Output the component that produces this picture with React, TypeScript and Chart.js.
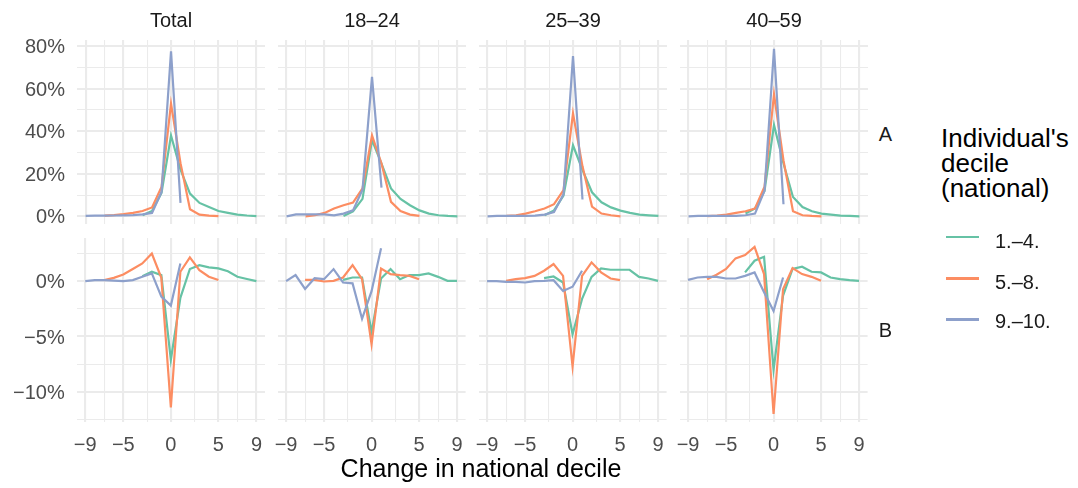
import React, { useEffect, useRef } from 'react';
import { Chart, registerables } from 'chart.js';

Chart.register(...registerables);

const N = null;

// Change in national decile (x categories)
const CHANGE = [-9, -8, -7, -6, -5, -4, -3, -2, -1, 0, 1, 2, 3, 4, 5, 6, 7, 8, 9];
const GROUPS = ['1.\u20134.', '5.\u20138.', '9.\u201310.'];
const AGE_FACETS = ['Total', '18\u201324', '25\u201339', '40\u201359'];
const ROW_FACETS = ['A', 'B'];

const X_GRID = [-9, -7, -5, -2.5, 0, 2.5, 5, 7, 9];
const X_MAJOR = [-9, -5, 0, 5, 9];
const Y_GRID_A = [0, 10, 20, 30, 40, 50, 60, 70, 80];
const Y_MAJOR_A = [0, 20, 40, 60, 80];
const Y_GRID_B = [-12.5, -10, -7.5, -5, -2.5, 0, 2.5];
const Y_MAJOR_B = [-10, -5, 0];

// Row A (percent)
const TOTAL_A_1_4 = [N, N, N, N, N, N, 0.5, 2.5, 11, 38, 22, 10.7, 6.3, 4.4, 2.5, 1.6, 0.8, 0.4, 0.1];
const TOTAL_A_5_8 = [N, N, 0.3, 0.6, 1.0, 1.6, 2.5, 4.2, 13.8, 53, 25, 3.3, 0.8, 0.3, 0.1, N, N, N, N];
const TOTAL_A_9_10 = [0.2, 0.3, 0.3, 0.4, 0.5, 0.6, 0.9, 1.6, 11.5, 77.6, 6.3, N, N, N, N, N, N, N, N];

const Y18_A_1_4 = [N, N, N, N, N, N, 0.2, 2.3, 8.2, 35.8, 24.8, 13.1, 8.2, 5.2, 2.8, 1.3, 0.5, 0.2, 0];
const Y18_A_5_8 = [N, N, 0, 0.5, 1.6, 3.7, 5.2, 6.5, 13.1, 38, 24.8, 6.8, 2.5, 0.8, 0.2, N, N, N, N];
const Y18_A_9_10 = [0, 0.9, 0.9, 0.9, 0.9, 0.5, 1.3, 2.8, 12.5, 65.6, 13.5, N, N, N, N, N, N, N, N];

const Y25_A_1_4 = [N, N, N, N, N, N, 0.5, 2.8, 9.8, 33.4, 21.8, 11.3, 6.6, 4.2, 2.7, 1.6, 0.8, 0.5, 0.2];
const Y25_A_5_8 = [N, N, 0.2, 0.5, 1.3, 2.4, 3.7, 5.7, 12.3, 48.4, 23.5, 4.6, 1.3, 0.5, 0, N, N, N, N];
const Y25_A_9_10 = [0, 0.2, 0.2, 0.2, 0.2, 0.3, 0.8, 2.0, 10.4, 75.3, 7.9, N, N, N, N, N, N, N, N];

const Y40_A_1_4 = [N, N, N, N, N, N, 1.3, 3.7, 12, 42.9, 24.8, 9.1, 4.4, 2.4, 1.3, 0.8, 0.3, 0.2, 0];
const Y40_A_5_8 = [N, N, 0.1, 0.3, 0.8, 1.6, 2.4, 3.7, 13.9, 57.4, 26.3, 2.4, 0.5, 0.2, 0, N, N, N, N];
const Y40_A_9_10 = [0, 0.2, 0.2, 0.2, 0.2, 0.2, 0.5, 1.3, 12, 78.7, 5.7, N, N, N, N, N, N, N, N];

// Row B (percent)
const TOTAL_B_1_4 = [N, N, N, N, N, N, 0.45, 0.85, 0.55, -7.1, -1.5, 1.1, 1.45, 1.25, 1.15, 0.9, 0.4, 0.2, 0.0];
const TOTAL_B_5_8 = [N, N, 0.1, 0.3, 0.6, 1.1, 1.6, 2.5, 0.3, -11.4, 0.85, 2.15, 1.0, 0.4, 0.1, N, N, N, N];
const TOTAL_B_9_10 = [0, 0.1, 0.1, 0.05, 0, 0.1, 0.4, 0.7, -1.4, -2.2, 1.6, N, N, N, N, N, N, N, N];

const Y18_B_1_4 = [N, N, N, N, N, N, 0.12, 0.33, 0.33, -4.6, 0.24, 1.1, 0.18, 0.55, 0.55, 0.7, 0.39, 0.03, 0.03];
const Y18_B_5_8 = [N, N, 0.12, 0.12, -0.03, 0.03, 0.33, 1.45, 0.18, -5.7, 1.15, 0.64, 0.55, 0.48, 0.18, N, N, N, N];
const Y18_B_9_10 = [0, 0.55, -0.7, 0.27, 0.18, 1.09, -0.12, -0.2, -3.4, -0.9, 2.97, N, N, N, N, N, N, N, N];

const Y25_B_1_4 = [N, N, N, N, N, N, 0.27, 0.42, -0.12, -4.8, -1.6, 0.39, 1.15, 1.03, 1.03, 1.03, 0.39, 0.24, 0.03];
const Y25_B_5_8 = [N, N, 0.03, 0.18, 0.27, 0.48, 0.94, 1.55, 0.48, -7.7, 0.48, 1.7, 0.8, 0.24, 0.09, N, N, N, N];
const Y25_B_9_10 = [0, 0, -0.06, -0.06, -0.12, 0, 0.03, 0.09, -0.88, -0.5, 0.94, N, N, N, N, N, N, N, N];

const Y40_B_1_4 = [N, N, N, N, N, N, 0.79, 1.85, 2.2, -8.0, -1.3, 1.1, 1.3, 0.85, 0.79, 0.33, 0.18, 0.09, 0.03];
const Y40_B_5_8 = [N, N, 0.18, 0.58, 1.1, 2.06, 2.36, 3.1, 0.64, -12.0, -0.73, 1.18, 0.64, 0.39, 0.03, N, N, N, N];
const Y40_B_9_10 = [0.12, 0.33, 0.39, 0.39, 0.24, 0.24, 0.48, 0.79, -1.0, -2.7, 0.33, N, N, N, N, N, N, N, N];

const ROWS_DATA = [
  [
    [TOTAL_A_1_4, TOTAL_A_5_8, TOTAL_A_9_10],
    [Y18_A_1_4, Y18_A_5_8, Y18_A_9_10],
    [Y25_A_1_4, Y25_A_5_8, Y25_A_9_10],
    [Y40_A_1_4, Y40_A_5_8, Y40_A_9_10],
  ],
  [
    [TOTAL_B_1_4, TOTAL_B_5_8, TOTAL_B_9_10],
    [Y18_B_1_4, Y18_B_5_8, Y18_B_9_10],
    [Y25_B_1_4, Y25_B_5_8, Y25_B_9_10],
    [Y40_B_1_4, Y40_B_5_8, Y40_B_9_10],
  ],
];

const COLORS = ['#66C2A5', '#FC8D62', '#8DA0CB'];
const FONT = "'Liberation Sans', Arial, Helvetica, sans-serif";
const GRID_COLOR = '#EBEBEB';
const TICK_COLOR = '#4D4D4D';

const PANEL_LEFT = [77, 278, 479, 680];
const PANEL_W = 188;
const PANEL_TOP = [40, 238];
const PANEL_H = 184;
const Y_RANGES = [
  [-3.6, 82.9],
  [-12.72, 3.9],
];

const fmtNum = (v: number) => (v < 0 ? '\u2212' + Math.abs(v) : String(v));

function makeConfig(r: number, c: number): any {
  const yGrid = r === 0 ? Y_GRID_A : Y_GRID_B;
  const yMajor = r === 0 ? Y_MAJOR_A : Y_MAJOR_B;
  const series = ROWS_DATA[r][c];
  return {
    type: 'line',
    data: {
      datasets: series.map((vals, i) => ({
        label: GROUPS[i],
        data: CHANGE.map((x, j) => ({ x, y: vals[j] })),
        borderColor: COLORS[i],
        backgroundColor: COLORS[i],
        borderWidth: 2.2,
        pointRadius: 0,
        pointHoverRadius: 0,
        fill: false,
        tension: 0,
        spanGaps: false,
        order: 3 - i,
      })),
    },
    options: {
      animation: false,
      responsive: false,
      maintainAspectRatio: false,
      devicePixelRatio: 1,
      events: [],
      layout: { padding: 0 },
      plugins: { legend: { display: false }, tooltip: { enabled: false } },
      scales: {
        x: {
          type: 'linear',
          min: -9.9,
          max: 9.9,
          afterBuildTicks: (s: any) => {
            s.ticks = X_GRID.map((v) => ({ value: v }));
          },
          grid: {
            color: GRID_COLOR,
            lineWidth: (ctx: any) => (ctx.tick && X_MAJOR.includes(ctx.tick.value) ? 2.1 : 1.05),
            drawTicks: false,
          },
          border: { display: false },
          ticks: {
            display: r === 1,
            autoSkip: false,
            maxRotation: 0,
            padding: 11,
            color: TICK_COLOR,
            font: { family: FONT, size: 20 },
            callback: (v: any) => (X_MAJOR.includes(Number(v)) ? fmtNum(Number(v)) : ''),
          },
        },
        y: {
          type: 'linear',
          min: Y_RANGES[r][0],
          max: Y_RANGES[r][1],
          afterBuildTicks: (s: any) => {
            s.ticks = yGrid.map((v) => ({ value: v }));
          },
          grid: {
            color: GRID_COLOR,
            lineWidth: (ctx: any) => (ctx.tick && yMajor.includes(ctx.tick.value) ? 2.1 : 1.05),
            drawTicks: false,
          },
          border: { display: false },
          ticks: {
            display: c === 0,
            autoSkip: false,
            padding: 12,
            labelOffset: 1.5,
            color: TICK_COLOR,
            font: { family: FONT, size: 20 },
            callback: (v: any) => (yMajor.includes(Number(v)) ? fmtNum(Number(v)) + '%' : ''),
          },
        },
      },
    },
  };
}

export default function App() {
  const refs = useRef<(HTMLCanvasElement | null)[]>([]);

  useEffect(() => {
    const charts: Chart[] = [];
    for (let r = 0; r < 2; r++) {
      for (let c = 0; c < 4; c++) {
        const canvas = refs.current[r * 4 + c];
        if (!canvas) continue;
        let w = PANEL_W + 100;
        let h = PANEL_H + 60;
        let chart: Chart | null = null;
        let offL = 0;
        let offT = 0;
        for (let pass = 0; pass < 4; pass++) {
          canvas.width = w;
          canvas.height = h;
          canvas.style.width = w + 'px';
          canvas.style.height = h + 'px';
          chart = new Chart(canvas, makeConfig(r, c));
          const ca = chart.chartArea;
          offL = ca.left;
          offT = ca.top;
          const offR = w - ca.right;
          const offB = h - ca.bottom;
          const nw = Math.round(offL + PANEL_W + offR);
          const nh = Math.round(offT + PANEL_H + offB);
          if (pass < 3 && (nw !== w || nh !== h)) {
            chart.destroy();
            chart = null;
            w = nw;
            h = nh;
          } else {
            break;
          }
        }
        if (chart) {
          canvas.style.left = PANEL_LEFT[c] - offL + 'px';
          canvas.style.top = PANEL_TOP[r] - offT + 'px';
          charts.push(chart);
        }
      }
    }
    return () => charts.forEach((ch) => ch.destroy());
  }, []);

  const canvases: React.ReactNode[] = [];
  for (let r = 0; r < 2; r++) {
    for (let c = 0; c < 4; c++) {
      const idx = r * 4 + c;
      canvases.push(
        <canvas
          key={idx}
          ref={(el) => {
            refs.current[idx] = el;
          }}
          style={{ position: 'absolute', left: PANEL_LEFT[c], top: PANEL_TOP[r] }}
        />
      );
    }
  }

  const legendY = [237, 278.5, 319.5];
  const legendTextCenter = [241.2, 281.3, 320.8];

  return (
    <div
      style={{
        position: 'absolute',
        left: 0,
        top: 0,
        width: 1078,
        height: 488,
        background: '#ffffff',
        fontFamily: FONT,
        overflow: 'hidden',
      }}
    >
      {canvases}
      {AGE_FACETS.map((t, c) => (
        <div
          key={'strip' + c}
          style={{
            position: 'absolute',
            left: PANEL_LEFT[c],
            width: PANEL_W,
            top: 9.7,
            textAlign: 'center',
            fontSize: 20,
            lineHeight: '20px',
            color: '#1A1A1A',
            whiteSpace: 'nowrap',
          }}
        >
          {t}
        </div>
      ))}
      {ROW_FACETS.map((t, r) => (
        <div
          key={'rstrip' + r}
          style={{
            position: 'absolute',
            left: 870,
            width: 31,
            top: (r === 0 ? 133.5 : 330) - 9.8,
            textAlign: 'center',
            fontSize: 20,
            lineHeight: '20px',
            color: '#1A1A1A',
          }}
        >
          {t}
        </div>
      ))}
      <div
        style={{
          position: 'absolute',
          left: 281,
          width: 400,
          top: 455.5,
          textAlign: 'center',
          fontSize: 25,
          lineHeight: '25px',
          color: '#000000',
          whiteSpace: 'nowrap',
        }}
      >
        Change in national decile
      </div>
      <div
        style={{
          position: 'absolute',
          left: 941,
          top: 125.5,
          fontSize: 26,
          lineHeight: '25px',
          color: '#000000',
          whiteSpace: 'nowrap',
        }}
      >
        Individual's
        <br />
        decile
        <br />
        (national)
      </div>
      {GROUPS.map((gname, i) => (
        <React.Fragment key={'leg' + i}>
          <div
            style={{
              position: 'absolute',
              left: 946,
              width: 33,
              top: legendY[i] - 1.1,
              height: 2.2,
              background: COLORS[i],
            }}
          />
          <div
            style={{
              position: 'absolute',
              left: 995,
              top: legendTextCenter[i] - 9.8,
              fontSize: 20,
              lineHeight: '20px',
              color: '#1A1A1A',
              whiteSpace: 'nowrap',
            }}
          >
            {gname}
          </div>
        </React.Fragment>
      ))}
    </div>
  );
}
